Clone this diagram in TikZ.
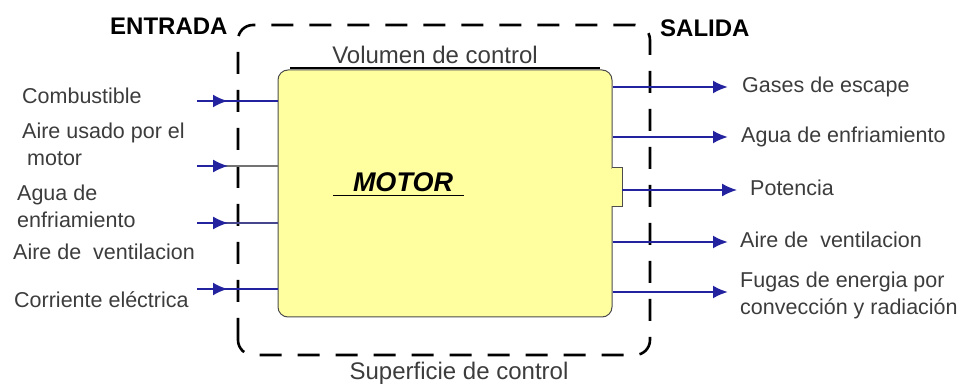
\documentclass[tikz,border=0pt]{standalone}
\usepackage{fontspec}
\setmainfont{Liberation Sans}
\usetikzlibrary{arrows.meta}
\definecolor{arrowblue}{RGB}{35,35,160}
\definecolor{thinblue}{RGB}{70,70,140}
\definecolor{txtgray}{RGB}{60,60,60}
\definecolor{motoryellow}{RGB}{255,255,160}
\begin{document}
\begin{tikzpicture}[x=1pt,y=-1pt,
  lbl/.style={font=\fontsize{21.5}{27}\selectfont, text=txtgray, inner sep=0pt, align=left},
  title/.style={font=\bfseries\fontsize{24}{28}\selectfont, text=black, inner sep=0pt},
  cvlabel/.style={font=\fontsize{24}{28}\selectfont, text=txtgray, inner sep=0pt},
  motorbox/.style={draw=black!70, line width=1pt, fill=motoryellow, rounded corners=10pt, inner sep=0pt},
  boundary/.style={draw=black, line width=2.6pt, dash pattern=on 22pt off 16pt, rounded corners=15pt},
  inthick/.style={draw=arrowblue, line width=2.6pt},
  inthin/.style={draw=thinblue, line width=1.6pt},
  outline/.style={draw=arrowblue, line width=2.3pt},
  tipin/.style={-{Latex[length=15pt,width=13pt]}},
  tipout/.style={-{Latex[length=15pt,width=13pt]}}
]
\useasboundingbox (0,0) rectangle (970,387);
% control surface
\draw[boundary] (238,355) -- (238,25) -- (650,25) -- (650,355) -- cycle;
% motor box
\node[motorbox, minimum width=334pt, minimum height=247pt] (motor) at (445,193.5) {};
\draw[draw=black!70, line width=1pt, fill=motoryellow] (612,168) -- (622,168) -- (622,207) -- (612,207);
\fill[motoryellow] (611,168.8) rectangle (613.5,206.2);
\coordinate (bump) at (622,190);
\draw[line width=2.5pt] (290,68) -- (600,68);
\node[font=\bfseries\itshape\fontsize{27}{30}\selectfont, inner sep=0pt] (mtext) at (403,182) {MOTOR};
\draw[line width=1.4pt] (333,195.5) -- (464,195.5);
% titles
\node[title, anchor=west] (entrada) at (110,26) {ENTRADA};
\node[title, anchor=west] (salida) at (660,28) {SALIDA};
\node[cvlabel] (vol) at (435,55) {Volumen de control};
\node[cvlabel] (sup) at (459,373) {Superficie de control};
% inputs
\node[lbl, anchor=west] (l1) at (22,96) {Combustible};
\node[lbl, anchor=west] (l2) at (22,144) {Aire usado por el\\\hspace*{5pt}motor};
\node[lbl, anchor=west] (l3) at (17,206) {Agua de\\enfriamiento};
\node[lbl, anchor=west] (l4) at (13,252) {Aire de\ \ ventilacion};
\node[lbl, anchor=west] (l5) at (14,300) {Corriente eléctrica};
\coordinate (i1) at (197,101); \coordinate (m1) at (228,101);
\coordinate (i2) at (197,166); \coordinate (m2) at (228,166);
\coordinate (i3) at (197,223); \coordinate (m3) at (228,223);
\coordinate (i5) at (197,289); \coordinate (m5) at (228,289);
\draw[inthick] (i1) -- (i1 -| motor.west);
\draw[inthick, tipin] (i1) -- (m1);
\draw[inthin, draw=black!55] (i2) -- (i2 -| motor.west);
\draw[inthin, tipin, draw=arrowblue] (i2) -- (m2);
\draw[inthin] (i3) -- (i3 -| motor.west);
\draw[inthin, tipin, draw=arrowblue] (i3) -- (m3);
\draw[inthick] (i5) -- (i5 -| motor.west);
\draw[inthick, tipin] (i5) -- (m5);
% outputs
\node[lbl, anchor=west] (r1) at (742,87) {Gases de escape};
\node[lbl, anchor=west] (r2) at (741,137) {Agua de enfriamiento};
\node[lbl, anchor=west] (r3) at (750,188) {Potencia};
\node[lbl, anchor=west] (r4) at (740,240) {Aire de\ \ ventilacion};
\node[lbl, anchor=west] (r5) at (740,295) {Fugas de energia por\\convección y radiación};
\coordinate (o1) at (728,87);
\coordinate (o2) at (728,137);
\coordinate (o3) at (737,190);
\coordinate (o4) at (728,242);
\coordinate (o5) at (728,292);
\draw[outline, tipout] (o1 -| motor.east) -- (o1);
\draw[outline, tipout] (o2 -| motor.east) -- (o2);
\draw[inthin, draw=arrowblue, tipout] (bump) -- (o3);
\draw[outline, tipout] (o4 -| motor.east) -- (o4);
\draw[outline, tipout] (o5 -| motor.east) -- (o5);
\end{tikzpicture}
\end{document}
